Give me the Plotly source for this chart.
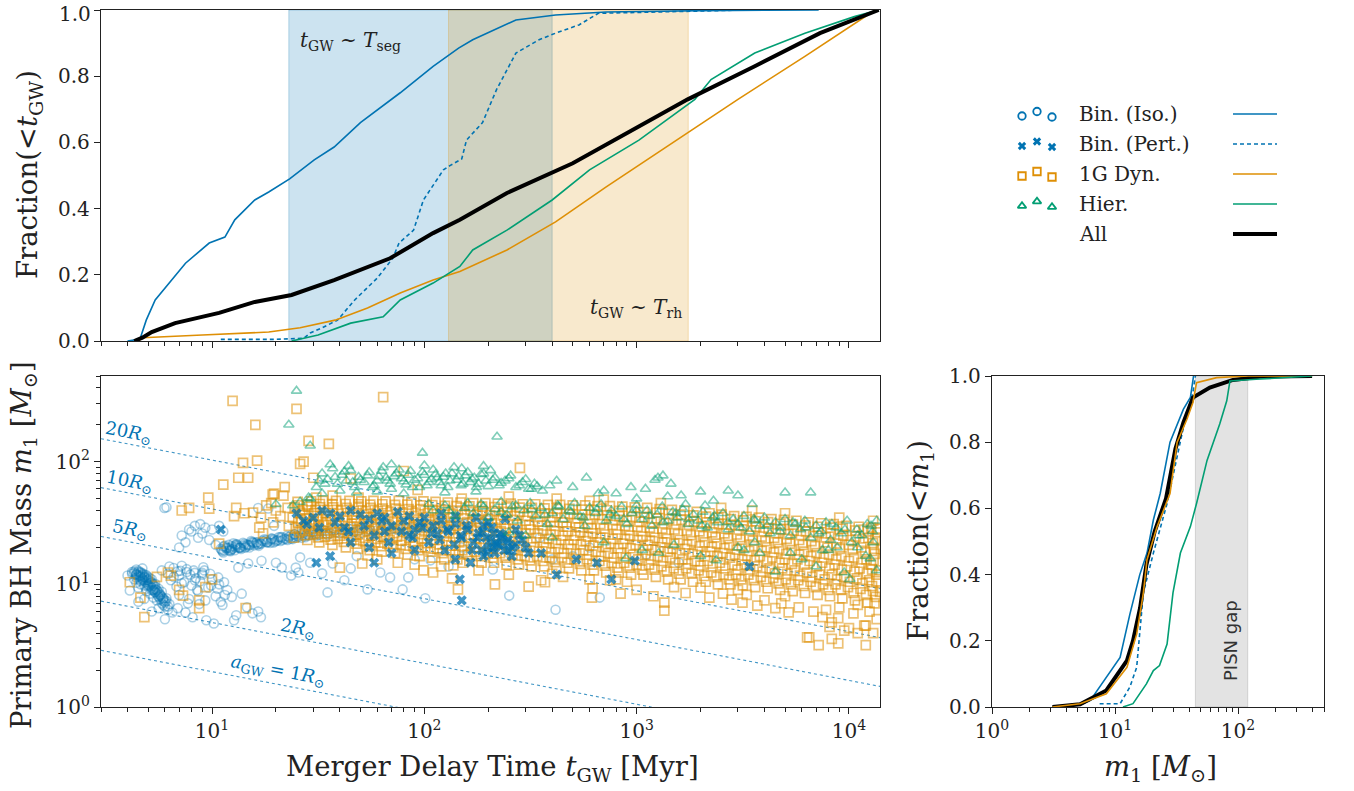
import numpy as np
import plotly.graph_objects as go

W, H = 1354, 791
SERIF = "DejaVu Serif"
BLUE, ORANGE, GREEN, INK = "#0173B2", "#DE8F05", "#029E73", "#222222"

# ---------------- top panel: cumulative fraction vs merger delay time [Myr]
cdf_iso_t = [4.0, 4.5, 4.6, 4.9, 5.4, 6.3, 7.5, 9.7, 11.5, 12.8, 15.9, 18.5, 23.2, 30.3, 37.6, 50, 77, 110, 145, 169, 270, 415, 716, 2000, 7200]
cdf_iso_f = [0.0, 0.005, 0.01, 0.063, 0.124, 0.175, 0.235, 0.296, 0.314, 0.366, 0.426, 0.45, 0.49, 0.547, 0.586, 0.66, 0.75, 0.83, 0.885, 0.91, 0.97, 0.985, 0.994, 0.998, 1.0]
cdf_pert_t = [11, 20, 27, 29, 33, 39, 47, 60, 71, 76, 89, 99, 123, 132, 150, 158, 188, 219, 270, 347, 415, 535, 660, 1500, 3300]
cdf_pert_f = [0.005, 0.005, 0.008, 0.024, 0.04, 0.063, 0.124, 0.19, 0.25, 0.296, 0.335, 0.426, 0.517, 0.53, 0.55, 0.607, 0.66, 0.76, 0.87, 0.91, 0.93, 0.955, 0.99, 0.995, 1.0]
cdf_dyn_t = [4.5, 4.7, 9, 18.5, 26, 38, 54, 77, 110, 147, 245, 415, 716, 1740, 3000, 6200, 12600, 13800]
cdf_dyn_f = [0.0, 0.01, 0.018, 0.027, 0.04, 0.063, 0.1, 0.145, 0.184, 0.21, 0.275, 0.36, 0.465, 0.628, 0.73, 0.86, 0.99, 1.0]
cdf_hier_t = [23.7, 31.6, 45, 64, 77, 110, 147, 169, 245, 400, 600, 1025, 1880, 2240, 3600, 6200, 10600, 13800]
cdf_hier_f = [0.0, 0.018, 0.054, 0.073, 0.124, 0.175, 0.225, 0.275, 0.335, 0.426, 0.517, 0.607, 0.73, 0.79, 0.87, 0.93, 0.98, 1.0]
cdf_all_t = [4.3, 4.7, 5.2, 6.7, 10.8, 15.9, 23.7, 37.6, 69, 110, 147, 245, 500, 1025, 1740, 3600, 7300, 13800]
cdf_all_f = [0.0, 0.01, 0.027, 0.054, 0.085, 0.118, 0.139, 0.184, 0.25, 0.326, 0.366, 0.447, 0.537, 0.647, 0.73, 0.83, 0.93, 1.0]

seg_span = [23, 400]      # t_GW ~ T_seg  [Myr]
rh_span = [130, 1750]     # t_GW ~ T_rh   [Myr]

# ---------------- bottom-right panel: cumulative fraction vs m1 [Msun]
mcdf_iso_m = [3.1, 5.2, 6.3, 8.5, 11, 13.2, 15.9, 18.2, 20.5, 23.3, 28, 36, 41, 43.5]
mcdf_iso_f = [0, 0.006, 0.02, 0.09, 0.15, 0.28, 0.40, 0.465, 0.565, 0.645, 0.8, 0.9, 0.935, 1.0]
mcdf_pert_m = [7.5, 11, 13.2, 15, 17, 20.5, 26.5, 32, 36, 43, 45]
mcdf_pert_f = [0.01, 0.01, 0.06, 0.12, 0.345, 0.465, 0.615, 0.755, 0.845, 0.95, 1.0]
mcdf_dyn_m = [3.1, 5.2, 8.5, 12.5, 15, 17, 18.2, 22, 28, 32, 38.5, 43, 46, 67, 120, 400]
mcdf_dyn_f = [0, 0.01, 0.04, 0.12, 0.22, 0.345, 0.445, 0.545, 0.645, 0.8, 0.87, 0.92, 0.98, 0.995, 1.0, 1.0]
mcdf_hier_m = [11.6, 14, 18, 20.5, 23, 26.5, 29.6, 34, 41, 46, 56, 71, 81, 86, 140, 400]
mcdf_hier_f = [0, 0.01, 0.07, 0.11, 0.125, 0.19, 0.345, 0.465, 0.545, 0.615, 0.745, 0.855, 0.925, 0.985, 0.99, 1.0]
mcdf_all_m = [3.1, 5.2, 8.5, 12.5, 14, 16, 18, 21, 26, 31, 36, 43, 59, 91, 150, 400]
mcdf_all_f = [0, 0.008, 0.05, 0.14, 0.2, 0.3, 0.43, 0.53, 0.63, 0.78, 0.86, 0.935, 0.965, 0.988, 0.998, 1.0]
pisn_gap = [45, 120]

# ---------------- bottom-left scatter: (t_GW [Myr], m1 [Msun])
iso_t = [4.0, 4.1, 4.2, 4.3, 4.3, 4.4, 4.4, 4.5, 4.5, 4.6,
         4.6, 4.7, 4.7, 4.8, 4.8, 4.9, 4.9, 5.0, 5.0, 5.1,
         5.1, 5.2, 5.2, 5.3, 5.4, 5.4, 5.5, 5.6, 5.7, 5.8,
         5.9, 6.0, 6.1, 6.2, 6.3, 6.5, 4.5, 4.8, 5.2, 5.6,
         4.4, 4.5, 4.6, 4.7, 4.8, 4.9, 5.0, 5.1, 5.2, 5.3,
         5.4, 5.5, 5.6, 5.7, 5.8, 5.9, 6.0, 6.2, 4.6, 4.9,
         5.3, 5.6, 5.9, 4.2, 4.4, 4.7, 5.0, 5.4, 5.8, 6.1,
         4.3, 4.4, 4.5, 4.6, 4.7, 4.8, 4.9, 5.0, 5.1, 5.2,
         5.3, 5.4, 5.5, 5.6, 5.7, 4.5, 4.6, 4.7, 4.8, 4.9,
         5.0, 5.1, 5.2, 5.3, 5.5, 5.7, 5.9, 6.0, 4.4, 4.6,
         5.8, 6.2, 6.4, 6.6, 6.8, 7.0, 7.0, 7.2, 7.4, 7.6,
         7.8, 8.0, 8.2, 8.4, 8.6, 8.8, 9.0, 9.3, 9.6, 10.0,
         10.4, 10.8, 11.2, 11.8, 12.4, 13.0, 13.8, 14.6, 15.5, 16.5,
         6.0, 6.9, 7.5, 8.1, 8.7, 9.4, 10.2, 11.0, 12.7, 17.0,
         6.3, 7.1, 8.3, 9.1, 7.7,
         6.6, 7.2, 7.9, 8.5, 9.2, 9.9, 10.7, 11.5, 6.9, 7.6,
         8.3, 9.0, 9.8, 10.6, 11.4,
         7.2, 7.5, 7.8, 8.0, 8.3, 8.6, 9.0, 9.3, 9.7, 10.0,
         10.4, 10.8, 11.3, 7.0, 8.8, 5.97, 6.1, 16.5, 18.4, 19.6,
         11, 11.3, 11.6, 12, 12, 12.4, 12.8, 13, 13.3, 13.7,
         14, 14.4, 14.8, 15.3, 15.8, 16.3, 17, 17.6, 18.3, 19,
         19.8, 20.6, 21.5, 22.5, 23.5, 24.5, 25.6, 27, 28.5, 30,
         32, 34, 36, 38, 41, 44, 47, 50, 54, 58,
         63, 68, 74, 80, 87, 95, 105, 115, 12.2, 13.5,
         15, 16.5, 18.8, 21, 24, 27.5, 31, 35, 40, 46,
         53, 60, 70, 82, 95, 130, 160, 190, 11.5, 12.6,
         11.2, 11.8, 12.3, 12.9, 13.5, 14.2, 14.9, 15.6, 16.4, 17.3,
         18.2, 19.2, 20.2, 21.3, 22.4, 23.6, 24.9, 26.2, 27.6, 29.2,
         30.8, 32.5, 34.4, 36.4, 38.6, 41, 43.5, 46.2, 49, 52,
         55.5, 59, 63, 67, 72, 77, 83, 89, 96, 104,
         112, 121, 131, 142, 154, 167, 181, 196,
         11.1, 11.4, 11.7, 12.1, 12.5, 12.9, 13.2, 13.6, 14.1, 14.6,
         15.1, 15.7, 16.2, 16.9, 17.5, 18.1, 18.9, 19.6, 20.4, 21.2,
         22, 23, 24, 25, 26.5, 28, 29.5, 31, 11.3, 12.2,
         13.1, 14.3, 15.4, 16.6, 18, 19.5, 21, 22.7, 24.5, 26.4,
         26, 29, 35, 42, 54, 79, 101, 62, 69, 84,
         107, 37, 33, 25.5, 17.1, 14.8, 13.3, 20, 23.6, 24.8,
         21.3, 251, 415, 670, 210, 1580, 1110, 48, 90, 130,
         160, 45, 500, 300, 200, 400, 250, 350, 600, 150]
iso_m = [11.8, 8.9, 12.2, 11.0, 12.8, 10.3, 13.2, 11.6, 9.4, 12.4,
         10.6, 13.5, 11.2, 9.8, 12.0, 10.8, 8.8, 11.5, 9.6, 10.2,
         8.4, 9.0, 11.0, 7.8, 8.6, 10.1, 7.4, 9.2, 8.1, 7.0,
         7.7, 6.6, 7.3, 6.2, 6.9, 5.9, 7.2, 7.6, 6.0, 6.4,
         12.0, 12.6, 11.8, 12.3, 11.4, 11.9, 10.8, 11.2, 10.4, 10.0,
         9.6, 9.0, 8.6, 8.2, 7.9, 7.3, 7.1, 6.6, 10.0, 9.2,
         8.9, 7.9, 6.8, 12.6, 11.9, 10.9, 9.9, 9.1, 8.7, 7.7,
         12.4, 12.2, 11.9, 11.5, 11.1, 10.7, 10.4, 10.0, 9.7, 9.4,
         9.0, 8.7, 8.4, 8.0, 7.6, 12.9, 12.6, 12.0, 11.6, 11.3,
         11.0, 10.6, 10.2, 9.8, 8.9, 8.3, 7.6, 7.4, 11.4, 10.8,
         13.0, 12.2, 10.8, 13.6, 9.6, 11.8, 8.2, 14.2, 10.4, 12.6,
         7.6, 9.8, 13.0, 11.2, 8.8, 10.6, 12.0, 7.4, 9.4, 11.0,
         8.0, 10.0, 6.8, 9.0, 7.9, 5.6, 8.4, 6.5, 5.8, 6.0,
         5.2, 6.4, 5.9, 5.4, 6.9, 5.1, 4.8, 7.2, 5.1, 5.4,
         14.0, 12.9, 12.4, 13.8, 7.0,
         11.5, 10.2, 12.0, 9.0, 13.0, 9.8, 11.4, 8.2, 12.8, 13.3,
         10.8, 12.4, 12.2, 9.2, 10.4,
         25, 22, 28, 27, 30, 24, 26, 29, 23, 28,
         21, 30, 27, 20, 31, 42, 42.5, 42, 41.5, 30,
         19.5, 18.2, 20.0, 19.0, 21.0, 20.4, 19.0, 21.3, 20.0, 19.4,
         21.8, 20.2, 21.0, 22.6, 20.8, 22.0, 21.4, 23.3, 22.2, 23.6,
         22.4, 24.2, 23.0, 24.8, 23.6, 25.6, 24.4, 26.4, 25.0, 26.8,
         25.4, 27.4, 26.0, 27.8, 26.6, 28.4, 27.0, 28.8, 27.4, 29.2,
         27.8, 29.6, 28.4, 30.2, 29.0, 30.6, 29.8, 31.4, 18.6, 19.8,
         20.0, 21.2, 21.8, 22.6, 23.4, 24.2, 24.8, 25.4, 26.0, 26.6,
         27.0, 27.6, 28.2, 28.8, 29.4, 31.0, 31.8, 32.6, 20.6, 21.6,
         18.6, 19.9, 19.2, 20.8, 19.9, 21.4, 20.6, 22.0, 21.2, 22.8,
         21.9, 23.6, 22.7, 24.3, 23.4, 25.1, 24.1, 25.9, 24.9, 26.6,
         25.5, 27.2, 26.0, 27.7, 26.5, 28.2, 27.0, 28.7, 27.4, 29.1,
         27.8, 29.6, 28.2, 30.0, 28.6, 30.4, 29.0, 30.8, 29.4, 31.3,
         29.9, 31.8, 30.4, 32.3, 31.0, 32.9, 31.6, 33.5,
         19.1, 18.9, 19.6, 19.8, 19.5, 20.1, 20.6, 20.0, 20.7, 21.1,
         21.0, 21.6, 21.9, 21.7, 22.4, 22.2, 22.9, 23.2, 23.0, 23.8,
         23.6, 24.3, 24.2, 24.9, 25.0, 25.6, 25.4, 26.1, 20.4, 18.9,
         21.1, 19.9, 22.1, 20.6, 23.1, 21.9, 24.3, 23.0, 25.6, 24.0,
         16.6, 15, 8.6, 10.8, 9.1, 9.1, 7.7, 12.5, 11.4, 11.4,
         15.7, 14.8, 12.3, 12.5, 15.6, 14.8, 13.7, 15, 11.8, 13.7,
         13.7, 8.1, 6.2, 7.8, 13.2, 15, 17.5, 17, 16, 14,
         17, 13.5, 17, 20, 22, 16, 18, 24, 20, 20]

pert_t = [11, 25, 30, 33, 36, 40, 45, 50, 55, 60,
          65, 70, 75, 80, 85, 90, 95, 100, 110, 120,
          130, 140, 150, 160, 170, 180, 190, 200, 210, 220,
          235, 250, 270, 290, 310, 355, 420, 520, 650, 760,
          980, 3400, 31, 36, 58, 147, 150, 45, 55, 70,
          90, 105, 125, 140, 165, 190, 120, 140, 240, 175,
          42, 65, 85, 115, 28, 200, 205, 215, 225, 230,
          245, 260, 185, 195, 212,
          27, 32, 38, 44, 52, 58, 63, 68, 78, 88,
          98, 108, 118, 128, 138, 148, 158, 168, 178, 188,
          198, 208, 218, 228, 238, 248, 258, 268, 280, 300]
pert_m = [28, 38, 35, 40, 38, 36, 40, 37, 34, 38,
          35, 30, 39, 33, 36, 28, 32, 35, 30, 33,
          27, 31, 24, 28, 22, 26, 30, 32, 20, 21,
          25, 19, 28, 23, 18, 18, 12, 16, 15, 11,
          15.6, 14, 15, 17, 15, 11, 7.4, 22, 20, 18,
          19, 22, 19, 16, 15, 17, 38, 36, 34, 35,
          29, 27, 25, 26, 31, 20, 23, 18, 21, 24,
          22, 20, 19, 24, 26,
          33, 29, 32, 27, 30, 25, 33, 22, 27, 24,
          29, 26, 23, 28, 21, 25, 30, 19, 24, 27,
          18, 29, 22, 26, 19, 23, 17, 21, 25, 20]

# 1G dynamical mergers: dense band (read column by column, two interleaved passes) + sparse points
dyn_band_t = [
    24.3, 25.8, 24.8, 25.5, 24, 26, 24.5, 25.3,
    28.1, 29.9, 28.7, 29.6, 27.8, 30.2, 28.4, 29.3,
    32, 34, 32.7, 33.7, 31.7, 34.3, 32.3, 33.3,
    36.9, 39.1, 37.6, 38.8, 36.5, 39.5, 37.2, 38.4,
    42.7, 45.3, 43.6, 44.9, 42.2, 45.8, 43.1, 44.4,
    48.5, 51.5, 49.5, 51, 48, 52, 49, 50.5,
    55.3, 58.7, 56.4, 58.1, 54.7, 59.3, 55.9, 57.6,
    63, 67, 64.4, 66.3, 62.4, 67.6, 63.7, 65.7,
    72.8, 77.3, 74.3, 76.5, 72, 78, 73.5, 75.8,
    83.4, 88.6, 85.1, 87.7, 82.6, 89.4, 84.3, 86.9,
    95, 101, 97, 100, 94, 102, 96, 99,
    109, 115, 111, 114, 108, 116, 110, 113,
    124, 132, 127, 131, 123, 133, 125, 129,
    143, 151, 146, 150, 141, 153, 144, 148,
    163, 173, 166, 171, 161, 175, 165, 170,
    186, 198, 190, 196, 184, 200, 188, 194,
    213, 227, 218, 224, 211, 229, 216, 222,
    244, 260, 249, 257, 242, 262, 247, 255,
    279, 297, 285, 294, 276, 300, 282, 291,
    320, 340, 327, 337, 317, 343, 323, 333,
    367, 389, 374, 386, 363, 393, 370, 382,
    419, 445, 428, 441, 415, 449, 423, 436,
    480, 510, 490, 505, 475, 515, 485, 500,
    549, 583, 560, 577, 543, 589, 555, 572,
    629, 667, 642, 661, 622, 674, 635, 654,
    719, 763, 734, 756, 711, 771, 726, 748,
    823, 873, 840, 865, 814, 882, 831, 856,
    941, 999, 960, 989, 931, 1009, 951, 980,
    1077, 1143, 1099, 1132, 1066, 1154, 1088, 1121,
    1232, 1308, 1257, 1295, 1219, 1321, 1245, 1283,
    1407, 1494, 1436, 1479, 1392, 1508, 1421, 1465,
    1610, 1710, 1643, 1693, 1594, 1726, 1627, 1677,
    1843, 1957, 1881, 1938, 1824, 1976, 1862, 1919,
    2115, 2245, 2158, 2224, 2093, 2267, 2136, 2202,
    2415, 2565, 2465, 2540, 2390, 2590, 2440, 2515,
    2765, 2936, 2822, 2907, 2736, 2964, 2793, 2879,
    3162, 3358, 3227, 3325, 3130, 3390, 3195, 3293,
    3618, 3842, 3693, 3805, 3581, 3879, 3655, 3767,
    4142, 4398, 4227, 4355, 4099, 4441, 4185, 4313,
    4743, 5037, 4841, 4988, 4694, 5086, 4792, 4939,
    5432, 5768, 5544, 5712, 5376, 5824, 5488, 5656,
    6208, 6592, 6336, 6528, 6144, 6656, 6272, 6464,
    7110, 7550, 7257, 7477, 7037, 7623, 7183, 7403,
    8138, 8642, 8306, 8558, 8054, 8726, 8222, 8474,
    9312, 9888, 9504, 9792, 9216, 9984, 9408, 9696,
    10670, 11330, 10890, 11220, 10560, 11440, 10780, 11110,
    12222, 12978, 12474, 12852, 12096, 13104, 12348, 12726,
    13192, 14008, 13464, 13872, 13056, 14144, 13328, 13736]
dyn_band_m = [
    24, 26.5, 29, 32, 35, 38.5, 42.5, 47,
    23, 25.5, 28.5, 31, 34.5, 38, 43, 47.5,
    22, 24.5, 27.5, 30.5, 34, 38, 42.5, 48,
    21, 23.5, 26.5, 30, 33.5, 37.5, 42.5, 48,
    20, 23, 26, 29.5, 33, 37, 42, 48,
    19.5, 22.5, 25.5, 29, 33, 37, 42, 47.5,
    19, 22, 25, 28.5, 32.5, 37, 42, 48,
    18.5, 21.5, 24.5, 28, 32, 36.5, 41.5, 47.5,
    18, 21, 24.5, 28, 32, 36, 41.5, 48,
    17.5, 20.5, 24, 27.5, 31.5, 36, 41, 47,
    17, 20, 23.5, 27, 31, 35.5, 41, 47.5,
    16.5, 19.5, 23, 26.5, 30.5, 35, 40.5, 47,
    16, 19, 22.5, 26, 30, 35, 40.5, 46.5,
    16, 19, 22, 26, 30, 34.5, 40, 46.5,
    15.5, 18.5, 21.5, 25.5, 29.5, 34, 40, 46,
    15, 18, 21.5, 25, 29, 34, 39.5, 46,
    15, 18, 21, 25, 29, 33.5, 39.5, 45.5,
    14.5, 17.5, 21, 24.5, 28.5, 33.5, 39, 45.5,
    14.5, 17, 20.5, 24, 28, 33, 39, 45,
    14, 17, 20, 24, 28, 32.5, 38.5, 45,
    14, 16.5, 20, 23.5, 27.5, 32.5, 38, 44.5,
    13.5, 16.5, 19.5, 23, 27, 32, 38, 44.5,
    13.5, 16, 19.5, 23, 27, 31.5, 37.5, 44,
    13, 16, 19, 22.5, 26.5, 31, 37, 44,
    13, 15.5, 18.5, 22, 26, 31, 37, 43.5,
    12.5, 15, 18, 21.5, 25.5, 30.5, 36.5, 43.5,
    12.5, 15, 18, 21.5, 25.5, 30, 36, 43,
    12, 14.5, 17.5, 21, 25, 29.5, 35.5, 42.5,
    12, 14.5, 17.5, 21, 24.5, 29, 35, 42,
    11.5, 14, 17, 20, 24, 28.5, 34.5, 41,
    11, 13.5, 16.5, 19.5, 23.5, 28, 34, 40.5,
    11, 13.5, 16, 19.5, 23, 27.5, 33.5, 40,
    10.5, 13, 15.5, 18.5, 22.5, 27, 32.5, 39,
    10.5, 12.5, 15.5, 18.5, 22, 26.5, 32, 38,
    10, 12, 15, 18, 21.5, 26, 31, 37,
    10, 12, 14.5, 17.5, 21, 25.5, 30.5, 36,
    9.8, 12, 14.5, 17, 20.5, 25, 30, 35.5,
    9.5, 11.5, 14, 17, 20.5, 24.5, 29.5, 35,
    9.3, 11.3, 13.5, 16.5, 20, 24, 28.5, 34,
    9, 11, 13.5, 16, 19.5, 23.5, 28, 33.5,
    8.8, 10.8, 13, 16, 19, 23, 27.5, 33,
    8.5, 10.5, 12.5, 15.5, 18.5, 22.5, 27, 32,
    8.2, 10, 12, 15, 18, 22, 26.5, 31.5,
    8, 10, 12, 14.5, 17.5, 21.5, 26, 31,
    7.7, 9.5, 11.5, 14, 17, 21, 25, 30,
    7.4, 9.2, 11.2, 13.5, 16.5, 20, 24.5, 29.5,
    7.1, 8.8, 10.8, 13.2, 16, 19.5, 24, 29,
    7, 8.7, 10.6, 13, 15.8, 19.3, 23.5, 28.5]
dyn_band2_t = [
    27.5, 26.5, 27.8, 26.2, 27.3, 26.7, 28.1,
    31.6, 30.4, 31.9, 30.1, 31.3, 30.7, 32.2,
    36.2, 34.8, 36.6, 34.4, 35.9, 35.1, 36.9,
    41.8, 40.2, 42.2, 39.8, 41.4, 40.6, 42.6,
    47.9, 46.1, 48.4, 45.6, 47.5, 46.5, 48.9,
    54.6, 52.4, 55.1, 51.9, 54, 53, 55.6,
    62.2, 59.8, 62.8, 59.2, 61.6, 60.4, 63.4,
    71.4, 68.6, 72.1, 67.9, 70.7, 69.3, 72.8,
    81.6, 78.4, 82.4, 77.6, 80.8, 79.2, 83.2,
    93.8, 90.2, 94.8, 89.2, 92.9, 91.1, 95.7,
    107, 103, 108, 102, 106, 104, 109,
    122, 118, 124, 116, 121, 119, 125,
    140, 134, 141, 133, 138, 136, 142,
    160, 154, 162, 152, 159, 155, 163,
    184, 176, 185, 175, 182, 178, 187,
    210, 202, 212, 200, 208, 204, 214,
    241, 231, 243, 229, 238, 234, 245,
    275, 265, 278, 262, 273, 267, 281,
    315, 303, 318, 300, 312, 306, 321,
    361, 347, 365, 343, 358, 350, 368,
    413, 397, 417, 393, 409, 401, 421,
    472, 454, 477, 449, 468, 458, 482,
    541, 519, 546, 514, 535, 525, 551,
    619, 595, 625, 589, 613, 601, 631,
    709, 681, 716, 674, 702, 688, 723,
    811, 779, 819, 771, 803, 787, 827,
    926, 890, 935, 881, 917, 899, 944,
    1061, 1019, 1071, 1009, 1050, 1030, 1082,
    1214, 1166, 1226, 1154, 1202, 1178, 1238,
    1387, 1333, 1401, 1319, 1374, 1346, 1414,
    1581, 1519, 1597, 1504, 1566, 1535, 1612,
    1816, 1744, 1833, 1727, 1798, 1762, 1851,
    2081, 1999, 2101, 1979, 2060, 2020, 2122,
    2377, 2283, 2400, 2260, 2353, 2307, 2423,
    2723, 2617, 2750, 2590, 2697, 2643, 2777,
    3111, 2989, 3142, 2959, 3081, 3020, 3172,
    3560, 3420, 3595, 3385, 3525, 3455, 3630,
    4080, 3920, 4120, 3880, 4040, 3960, 4160,
    4661, 4479, 4707, 4433, 4616, 4524, 4753,
    5335, 5125, 5387, 5073, 5282, 5178, 5439,
    6120, 5880, 6180, 5820, 6060, 5940, 6240,
    6987, 6713, 7056, 6645, 6919, 6782, 7124,
    8007, 7693, 8086, 7615, 7929, 7772, 8164,
    9160, 8800, 9249, 8711, 9070, 8890, 9339,
    10506, 10094, 10609, 9991, 10403, 10197, 10712,
    12036, 11564, 12154, 11446, 11918, 11682, 12272,
    13362, 12838, 13493, 12707, 13231, 12969, 13624]
dyn_band2_m = [
    25.2, 27.7, 30.5, 33.5, 36.7, 40.5, 44.7,
    24.2, 27, 29.7, 32.7, 36.2, 40.4, 45.2,
    23.2, 26, 29, 32.2, 36, 40.2, 45.2,
    22.2, 25, 28.2, 31.7, 35.5, 40, 45.2,
    21.5, 24.5, 27.7, 31.2, 35, 39.5, 45,
    21, 24, 27.2, 31, 35, 39.5, 44.7,
    20.5, 23.5, 26.7, 30.5, 34.7, 39.5, 45,
    20, 23, 26.2, 30, 34.2, 39, 44.5,
    19.5, 22.7, 26.2, 30, 34, 38.7, 44.7,
    19, 22.2, 25.7, 29.5, 33.7, 38.5, 44,
    18.5, 21.7, 25.2, 29, 33.2, 38.2, 44.2,
    18, 21.2, 24.7, 28.5, 32.7, 37.7, 43.7,
    17.5, 20.7, 24.2, 28, 32.5, 37.7, 43.5,
    17.5, 20.5, 24, 28, 32.2, 37.2, 43.2,
    17, 20, 23.5, 27.5, 31.7, 37, 43,
    16.5, 19.7, 23.2, 27, 31.5, 36.7, 42.7,
    16.5, 19.5, 23, 27, 31.2, 36.5, 42.5,
    16, 19.2, 22.7, 26.5, 31, 36.2, 42.2,
    15.7, 18.7, 22.2, 26, 30.5, 36, 42,
    15.5, 18.5, 22, 26, 30.2, 35.5, 41.7,
    15.2, 18.2, 21.7, 25.5, 30, 35.2, 41.2,
    15, 18, 21.2, 25, 29.5, 35, 41.2,
    14.7, 17.7, 21.2, 25, 29.2, 34.5, 40.7,
    14.5, 17.5, 20.7, 24.5, 28.7, 34, 40.5,
    14.2, 17, 20.2, 24, 28.5, 34, 40.2,
    13.7, 16.5, 19.7, 23.5, 28, 33.5, 39.7,
    13.7, 16.5, 19.7, 23.5, 27.7, 33, 39.5,
    13.2, 16, 19.2, 23, 27.2, 32.5, 38.7,
    13.2, 16, 19.2, 22.7, 26.7, 32, 38.5,
    12.7, 15.5, 18.5, 22, 26, 31.5, 37.5,
    12.2, 15, 18, 21.5, 25.7, 31, 37,
    12.2, 14.7, 17.7, 21.2, 25.2, 30.5, 36.5,
    11.7, 14.2, 17, 20.5, 24.7, 29.7, 35.7,
    11.5, 14, 17, 20.2, 24.2, 29.2, 35,
    11, 13.5, 16.5, 19.7, 23.7, 28.5, 34,
    11, 13.2, 16, 19.2, 23.2, 28, 33.2,
    10.8, 13.2, 15.7, 18.7, 22.7, 27.5, 32.7,
    10.5, 12.7, 15.5, 18.7, 22.5, 27, 32.2,
    10.2, 12.3, 15, 18.2, 22, 26.2, 31.2,
    10, 12.2, 14.7, 17.7, 21.5, 25.7, 30.7,
    9.7, 11.8, 14.5, 17.5, 21, 25.2, 30.2,
    9.5, 11.5, 14, 17, 20.5, 24.7, 29.5,
    9, 11, 13.5, 16.5, 19.9, 24.2, 29,
    9, 11, 13.2, 16, 19.5, 23.7, 28.5,
    8.5, 10.5, 12.7, 15.5, 19, 23, 27.5,
    8.2, 10.2, 12.3, 15, 18.2, 22.2, 27,
    7.9, 9.7, 12, 14.5, 17.7, 21.7, 26.5]
dyn_t = [4.1, 4.6, 4.8, 6.2, 6.4, 7.3, 8.7, 8.7, 10, 14.4,
         5.5, 9.3, 7.0, 7.2, 7.8, 9.6, 9.7, 11.3, 12.5, 13,
         13.3, 12.7, 14, 14.8, 16, 16.3, 19.3, 22, 21.7, 25,
         26, 27, 28.5, 30, 35.5, 37, 45, 64, 80, 93,
         282, 31, 49, 25.5, 19.6, 14.2, 15.6, 16.7, 17.4, 19.4,
         22.7, 10.8, 18, 20, 21, 23, 17, 19,
         137, 152, 135, 144, 99, 51, 54, 40, 110, 180,
         215, 310, 355, 370, 615, 620, 750, 840, 1350, 1350,
         2000, 2550, 3150, 3700, 4500, 5200, 6500, 7200, 8300, 8900,
         12000, 11000, 10000, 8100, 7500, 8900, 12000, 13000, 6350, 9500,
         11800, 8300, 1000, 1200, 1700, 2200, 2800, 3300, 4000, 4800,
         5800, 6800, 7800, 9000, 10500, 12500, 13500, 600, 450, 900,
         1500, 60, 75, 90, 120, 250, 400, 800, 3000, 5000,
         11000, 250, 420, 700, 1300, 2500, 5000, 9000, 13000, 11700,
         150, 600, 3500]
dyn_m = [10.4, 7.8, 5.4, 12.5, 11.8, 8.1, 7.4, 6.4, 11, 6.4,
         11.5, 9.5, 9.0, 40, 42, 51, 41.5, 65, 314, 42,
         74, 36, 98, 74, 200, 102, 54, 62, 53, 270,
         96, 100, 148, 74, 140, 53, 73, 336, 84, 59,
         89, 51, 51, 44, 55, 38, 38.5, 29, 26, 32,
         42, 21.5, 44, 40, 36, 30, 35, 46,
         14.3, 15, 11.2, 9.1, 13, 14.8, 17.2, 13.7, 12.5, 13,
         10, 9.6, 10.8, 10.4, 7.8, 9.3, 10.8, 8.4, 6.1, 7.1,
         9.4, 8.4, 7.1, 6.7, 6.4, 5.9, 3.7, 3.2, 3.6, 3.3,
         3.2, 4.0, 4.4, 4.5, 5.4, 5.3, 4.6, 4.0, 3.7, 4.2,
         4.6, 4.9, 9, 8, 8.5, 7.8, 7.5, 8.2, 7.4, 7,
         6.5, 6, 6.2, 6.5, 5.8, 6, 5.2, 11, 11.5, 10.5,
         9.5, 16, 15, 14.5, 14, 12, 12.2, 11, 9, 8,
         6.8, 52, 50, 49, 46, 42, 38, 35, 33, 28,
         50, 48, 40]

hier_t = [25, 23, 29, 98, 220,
          31, 33, 35, 37, 39, 41, 43, 45, 47, 49,
          52, 55, 58, 61, 64, 67, 70, 74, 78, 82,
          86, 90, 95, 100, 105, 110, 115, 120, 126, 132,
          138, 145, 152, 160, 168, 176, 185, 195, 205, 215,
          225, 240, 255, 270, 290, 310, 330, 360, 390, 420,
          33, 40, 48, 60, 80, 125, 175, 36, 44, 70,
          100, 150, 190, 26, 29, 20, 28.5, 24,
          32, 34, 38, 42, 46, 50, 54, 57, 60, 63,
          66, 69, 72, 76, 80, 84, 88, 93, 98, 103,
          108, 113, 118, 123, 129, 135, 142, 149, 156, 164,
          172, 180, 190, 200, 210, 230, 250, 280, 300, 340,
          500, 580, 660, 800, 940, 1220, 1260, 1330, 1450, 1620,
          1700, 2000, 2100, 2700, 3000, 5000, 6600, 320, 1100, 1000,
          700, 2300, 3500, 1400,
          110, 125, 140, 155, 170, 185, 200, 215, 230, 245,
          260, 275, 295, 315, 335, 355, 380, 400, 425, 450,
          480, 510, 540, 570, 600, 640, 680, 720, 760, 800,
          850, 900, 950, 1000, 1060, 1120, 1180, 1250, 1320, 1400,
          1480, 1560, 1650, 1750, 1850, 1950, 2050, 2150, 2280, 2400,
          2550, 2700, 2850, 3000, 3200, 3400, 3600, 3800, 4000, 4250,
          4500, 4750, 5000, 5300, 5600, 5900, 6200, 6600, 7000, 7400,
          7800, 8200, 8700, 9200, 9800, 10300, 10900, 11500, 12200, 12900,
          13500, 13000,
          105, 130, 160, 190, 230, 270, 320, 370, 430, 490,
          560, 650, 750, 870, 1000, 1150, 1330, 1530, 1760, 2030,
          2330, 2690, 3100, 3570, 4110, 4730, 5450, 6270, 7220, 8310,
          9570, 11000, 12700,
          250, 300, 890, 1060, 1270, 2370, 4500, 5300, 9500, 10100,
          700, 1500, 3000, 6000, 8000, 12000, 400, 2000, 3600, 7000,
          11000, 13500, 3200, 3800, 7500, 8800, 12600]
hier_m = [378, 200, 135, 118, 160,
          62, 80, 72, 88, 66, 78, 70, 85, 62, 75,
          68, 82, 64, 76, 90, 70, 60, 80, 73, 65,
          84, 71, 62, 78, 68, 86, 74, 64, 80, 70,
          90, 76, 66, 82, 72, 62, 79, 70, 85, 74,
          64, 70, 77, 62, 68, 60, 66, 58, 64, 70,
          55, 58, 56, 57, 55, 56, 57, 95, 92, 95,
          93, 88, 92, 47, 50, 45, 51, 44,
          70, 66, 75, 83, 68, 71, 77, 62, 70, 84,
          74, 66, 76, 86, 69, 78, 62, 73, 82, 64,
          72, 79, 68, 75, 62, 80, 71, 64, 77, 68,
          74, 66, 80, 63, 71, 67, 73, 64, 72, 63,
          62, 74, 55, 55, 62, 71, 74, 77, 66, 53,
          45, 57, 44, 58, 53, 56, 56, 60, 60, 50,
          58, 48, 45, 52,
          40, 44, 36, 42, 38, 45, 35, 41, 47, 37,
          43, 33, 40, 46, 36, 42, 31, 38, 44, 34,
          40, 46, 36, 30, 42, 38, 45, 33, 40, 36,
          43, 31, 38, 44, 34, 40, 30, 37, 43, 33,
          39, 35, 41, 31, 37, 33, 39, 29, 35, 32,
          38, 28, 34, 31, 36, 27, 33, 30, 35, 26,
          32, 29, 34, 25, 31, 28, 33, 24, 30, 27,
          32, 23, 29, 26, 33, 22, 28, 25, 31, 27,
          33, 22,
          45, 40, 46, 43, 39, 44, 41, 37, 43, 39,
          35, 41, 37, 34, 40, 36, 32, 38, 34, 30,
          36, 32, 29, 34, 30, 27, 32, 29, 26, 31,
          28, 25, 30,
          26.5, 25, 16.3, 19, 18, 15.7, 12.7, 18, 12.5, 11,
          22, 21, 20, 16, 19, 17, 24, 17, 22, 14,
          20, 13, 19, 18, 19, 20, 16.2]

# guide lines of constant a_GW: m1 at t_GW = 3 Myr; m1 ~ t^(-1/3)
guide_a_rsun = [1, 2, 5, 10, 20]
guide_m_at_3myr = [2.9, 7.3, 24.6, 61.5, 154]
guide_t_ends = [3, 14000]

for a, b in [(iso_t, iso_m), (pert_t, pert_m), (dyn_band_t, dyn_band_m), (dyn_band2_t, dyn_band2_m),
             (dyn_t, dyn_m), (hier_t, hier_m),
             (cdf_iso_t, cdf_iso_f), (cdf_pert_t, cdf_pert_f), (cdf_dyn_t, cdf_dyn_f), (cdf_hier_t, cdf_hier_f),
             (cdf_all_t, cdf_all_f), (mcdf_iso_m, mcdf_iso_f), (mcdf_pert_m, mcdf_pert_f),
             (mcdf_dyn_m, mcdf_dyn_f), (mcdf_hier_m, mcdf_hier_f), (mcdf_all_m, mcdf_all_f)]:
    assert len(a) == len(b), (len(a), len(b))

# ---------------- figure
def px(x):
    return x / W

def py(y):
    return 1 - y / H

def rgba(hexc, a):
    h = hexc.lstrip("#")
    return "rgba(%d,%d,%d,%.3f)" % (int(h[0:2], 16), int(h[2:4], 16), int(h[4:6], 16), a)

fig = go.Figure()

def line(x, y, color, width, axes, dash="solid"):
    fig.add_trace(go.Scatter(x=x, y=y, mode="lines", line=dict(color=color, width=width, dash=dash),
                             xaxis=axes[0], yaxis=axes[1], showlegend=False, hoverinfo="skip"))

# top panel curves
line(cdf_iso_t, cdf_iso_f, BLUE, 1.6, ("x", "y"))
line(cdf_pert_t, cdf_pert_f, BLUE, 1.6, ("x", "y"), "4px,3px")
line(cdf_dyn_t, cdf_dyn_f, ORANGE, 1.6, ("x", "y"))
line(cdf_hier_t, cdf_hier_f, GREEN, 1.6, ("x", "y"))
line(cdf_all_t, cdf_all_f, "black", 4, ("x", "y"))

# bottom-right curves
line(mcdf_iso_m, mcdf_iso_f, BLUE, 1.6, ("x3", "y3"))
line(mcdf_pert_m, mcdf_pert_f, BLUE, 1.6, ("x3", "y3"), "4px,3px")
line(mcdf_all_m, mcdf_all_f, "black", 4, ("x3", "y3"))
line(mcdf_dyn_m, mcdf_dyn_f, ORANGE, 1.6, ("x3", "y3"))
line(mcdf_hier_m, mcdf_hier_f, GREEN, 1.6, ("x3", "y3"))

# guide lines
for m3 in guide_m_at_3myr:
    ys = [m3 * (t / guide_t_ends[0]) ** (-1.0 / 3.0) for t in guide_t_ends]
    line(guide_t_ends, ys, rgba(BLUE, 0.75), 1.1, ("x2", "y2"), "dot")

def scat(x, y, symbol, color, size, lw, axes=("x2", "y2")):
    fig.add_trace(go.Scatter(x=x, y=y, mode="markers", xaxis=axes[0], yaxis=axes[1], showlegend=False,
                             hoverinfo="skip",
                             marker=dict(symbol=symbol, size=size, color=color,
                                         line=dict(color=color, width=lw))))

scat(iso_t, iso_m, "circle-open", rgba(BLUE, 0.33), 9, 1.6)
scat(dyn_band_t + dyn_band2_t, dyn_band_m + dyn_band2_m, "square-open", rgba(ORANGE, 0.6), 9, 1.7)
scat(dyn_t, dyn_m, "square-open", rgba(ORANGE, 0.55), 9, 1.7)
scat(pert_t, pert_m, "x", rgba(BLUE, 0.75), 9, 0)
scat(hier_t, hier_m, "triangle-up-open", rgba(GREEN, 0.5), 9, 1.6)

# ---------------- legend (drawn in a helper axis that uses pixel-like units)
leg_rows = [114, 144, 174, 204, 234]
leg_labels = ["Bin. (Iso.)", "Bin. (Pert.)", "1G Dyn.", "Hier.", "All"]
leg_symbols = ["circle-open", "x", "square-open", "triangle-up-open", None]
leg_colors = [BLUE, BLUE, ORANGE, GREEN, "black"]
leg_dash = ["solid", "4px,3px", "solid", "solid", "solid"]
leg_width = [1.6, 1.6, 1.6, 1.6, 4]
for r, lab, sym, col, dsh, lw in zip(leg_rows, leg_labels, leg_symbols, leg_colors, leg_dash, leg_width):
    if sym:
        fig.add_trace(go.Scatter(x=[1022, 1037, 1052], y=[r + 2, r - 2.5, r + 3], mode="markers",
                                 xaxis="x4", yaxis="y4", showlegend=False, hoverinfo="skip",
                                 marker=dict(symbol=sym, size=7.5, color=col,
                                             line=dict(color=col, width=1.8 if sym != "x" else 0))))
    fig.add_trace(go.Scatter(x=[1233, 1277], y=[r, r], mode="lines", xaxis="x4", yaxis="y4", showlegend=False,
                             hoverinfo="skip", line=dict(color=col, width=lw, dash=dsh)))
    fig.add_annotation(x=1077, y=r, xref="x4", yref="y4", text=lab, showarrow=False, xanchor="left",
                       yanchor="middle", font=dict(family=SERIF, size=20, color=INK))

# ---------------- axes
def minor_vals(lo_exp, hi_exp):
    return [k * 10 ** e for e in range(lo_exp, hi_exp + 1) for k in range(2, 10)]

def base_axis(domain, anchor):
    return dict(domain=domain, anchor=anchor, showgrid=False, zeroline=False, showline=True, automargin=False,
                linecolor=INK, linewidth=1.3, mirror=True, ticks="outside", ticklen=6, tickwidth=1.2,
                tickcolor=INK, tickfont=dict(family=SERIF, size=20, color=INK), ticklabeloverflow="allow")

sup = lambda e: "10<sup>%d</sup>" % e
frac_ticks = [0, 0.2, 0.4, 0.6, 0.8, 1.0]
frac_labels = ["0.0", "0.2", "0.4", "0.6", "0.8", "1.0"]

xdom_left = [px(101), px(880)]
xdom_right = [px(992), px(1324)]
ydom_top = [py(341), py(10)]
ydom_bot = [py(707), py(376)]

xa = base_axis(xdom_left, "y")
xa.update(type="log", range=[np.log10(3), np.log10(14000)], tickvals=[10, 100, 1000, 10000],
          showticklabels=False,
          minor=dict(ticks="outside", ticklen=3.5, tickwidth=1, tickcolor=INK, tickvals=minor_vals(0, 4)))
ya = base_axis(ydom_top, "x")
# the top label (1.0) sits at the page edge; it is written as a note below so that it is not clipped
ya.update(range=[0, 1], tickvals=frac_ticks, ticktext=frac_labels[:-1] + [""])

xa2 = base_axis(xdom_left, "y2")
xa2.update(type="log", range=[np.log10(3), np.log10(14000)], tickvals=[10, 100, 1000, 10000],
           ticktext=[sup(1), sup(2), sup(3), sup(4)],
           minor=dict(ticks="outside", ticklen=3.5, tickwidth=1, tickcolor=INK, tickvals=minor_vals(0, 4)))
ya2 = base_axis(ydom_bot, "x2")
ya2.update(type="log", range=[0, np.log10(500)], tickvals=[1, 10, 100], ticktext=[sup(0), sup(1), sup(2)],
           minor=dict(ticks="outside", ticklen=3.5, tickwidth=1, tickcolor=INK, tickvals=minor_vals(0, 2)))

xa3 = base_axis(xdom_right, "y3")
xa3.update(type="log", range=[0, np.log10(500)], tickvals=[1, 10, 100], ticktext=[sup(0), sup(1), sup(2)],
           minor=dict(ticks="outside", ticklen=3.5, tickwidth=1, tickcolor=INK, tickvals=minor_vals(0, 2)))
ya3 = base_axis(ydom_bot, "x3")
ya3.update(range=[0, 1], tickvals=frac_ticks, ticktext=frac_labels)

xa4 = dict(domain=[px(1000), px(1300)], range=[1000, 1300], visible=False, anchor="y4", fixedrange=True, automargin=False)
ya4 = dict(domain=[py(260), py(90)], range=[260, 90], visible=False, anchor="x4", fixedrange=True, automargin=False)

fig.update_layout(width=W, height=H, margin=dict(l=0, r=0, t=0, b=0, autoexpand=False), paper_bgcolor="white",
                  plot_bgcolor="white", showlegend=False,
                  xaxis=xa, yaxis=ya, xaxis2=xa2, yaxis2=ya2, xaxis3=xa3, yaxis3=ya3, xaxis4=xa4, yaxis4=ya4)

# ---------------- shaded spans
fig.add_shape(type="rect", xref="x", yref="y domain", x0=seg_span[0], x1=seg_span[1], y0=0, y1=1,
              fillcolor=rgba(BLUE, 0.2), line=dict(color=rgba(BLUE, 0.25), width=1), layer="below")
fig.add_shape(type="rect", xref="x", yref="y domain", x0=rh_span[0], x1=rh_span[1], y0=0, y1=1,
              fillcolor=rgba(ORANGE, 0.2), line=dict(color=rgba(ORANGE, 0.25), width=1), layer="below")
fig.add_shape(type="rect", xref="x3", yref="y3 domain", x0=pisn_gap[0], x1=pisn_gap[1], y0=0, y1=1,
              fillcolor="rgba(0,0,0,0.11)", line=dict(color="rgba(0,0,0,0.13)", width=1), layer="below")

# ---------------- texts
def note(x, y, text, xref, yref, size, color=INK, angle=0, family=SERIF, xanchor="center", yanchor="middle"):
    fig.add_annotation(x=x, y=y, xref=xref, yref=yref, text=text, showarrow=False, textangle=angle,
                       xanchor=xanchor, yanchor=yanchor, font=dict(family=family, size=size, color=color))

note(px(93), 1.0, frac_labels[-1], "paper", "paper", 20, xanchor="right", yanchor="top")
note(np.log10(25.5), 0.905, "<i>t</i><sub>GW</sub> ~ <i>T</i><sub>seg</sub>", "x", "y", 20, xanchor="left")
note(np.log10(590), 0.10, "<i>t</i><sub>GW</sub> ~ <i>T</i><sub>rh</sub>", "x", "y", 20, xanchor="left")
note(np.log10(88), 0.20, "PISN gap", "x3", "y3", 18, color="#333333", angle=-90, family="DejaVu Sans")

# guide line labels
glab_t = [20.4, 25.5, 4.1, 4.1, 4.05]
glab_m = [1.96, 4.3, 27.5, 68.7, 172]
glab_txt = ["<i>a</i><sub>GW</sub> = 1<i>R</i><sub>⊙</sub>", "2<i>R</i><sub>⊙</sub>", "5<i>R</i><sub>⊙</sub>",
            "10<i>R</i><sub>⊙</sub>", "20<i>R</i><sub>⊙</sub>"]
for t, m, s in zip(glab_t, glab_m, glab_txt):
    note(np.log10(t), np.log10(m), s, "x2", "y2", 18, color=BLUE, angle=11)

# axis titles
note(px(29), py(175), "Fraction(&lt;<i>t</i><sub>GW</sub>)", "paper", "paper", 27.5, angle=-90)
note(px(23), py(545), "Primary BH Mass <i>m</i><sub>1</sub> [<i>M</i><sub>⊙</sub>]", "paper", "paper", 27.5, angle=-90)
note(px(492), py(768), "Merger Delay Time <i>t</i><sub>GW</sub> [Myr]", "paper", "paper", 27.5)
note(px(920), py(541), "Fraction(&lt;<i>m</i><sub>1</sub>)", "paper", "paper", 27.5, angle=-90)
note(px(1160), py(768), "<i>m</i><sub>1</sub> [<i>M</i><sub>⊙</sub>]", "paper", "paper", 27.5)

fig.write_html("out.html")
